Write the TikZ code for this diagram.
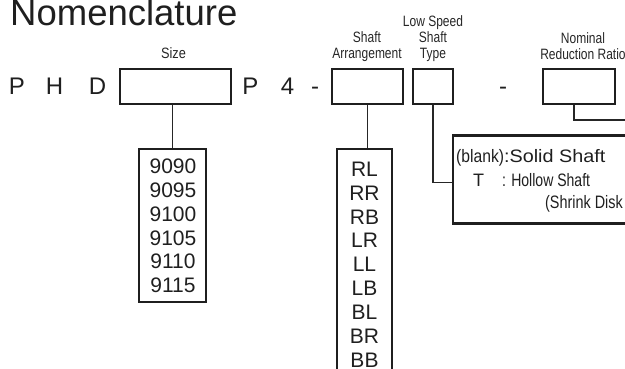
\documentclass[tikz,border=0pt]{standalone}
\usepackage{fontspec}
\setmainfont{Liberation Sans}
\usepackage{graphicx}
\newcommand\hs[2]{\scalebox{#1}[1]{#2}}
\tikzset{
  box/.style={draw=black!88, line width=2.5pt, inner sep=0pt},
  conn/.style={draw=black!85, line width=1.2pt},
  lbl/.style={inner sep=0pt, anchor=base, font=\fontsize{15}{15}\selectfont, text=black!85},
  letter/.style={inner sep=0pt, anchor=base, font=\fontsize{24}{24}\selectfont, text=black!88},
  item/.style={inner sep=0pt, font=\fontsize{21}{21}\selectfont, text=black!88},
  desc/.style={inner sep=0pt, anchor=base west, font=\fontsize{18}{18}\selectfont, text=black!88},
}
\begin{document}
\begin{tikzpicture}[x=1pt,y=-1pt]
\useasboundingbox (0,0) rectangle (625,369);
\clip (0,0) rectangle (625,369);
% title
\node[inner sep=0pt, anchor=base west, text=black!88, font=\fontsize{36.5}{36.5}\selectfont] (title) at (10,26)
  {Nomenclature};
% code letters
\node[letter] (l1) at (17,95) {P};
\node[letter] (l2) at (54.5,95) {H};
\node[letter] (l3) at (97.5,95) {D};
\node[letter] (l4) at (250.5,95) {P};
\node[letter] (l5) at (287.5,95) {4};
\node[letter] (l6) at (315,95) {-};
\node[letter] (l7) at (503,95) {-};
% boxes
\node[box, minimum width=111pt, minimum height=35pt] (sizebox) at (175.5,86.5) {};
\node[box, minimum width=71pt, minimum height=35pt] (arrbox) at (367.5,86.5) {};
\node[box, minimum width=40pt, minimum height=35pt] (typebox) at (433,86.5) {};
\node[box, minimum width=72pt, minimum height=35pt] (ratiobox) at (579,86.5) {};
% labels
\node[lbl] (lsize) at (173.5,59) {\hs{0.85}{Size}};
\node[lbl] (larr1) at (367,43) {\hs{0.8}{Shaft}};
\node[lbl] (larr2) at (367,59) {\hs{0.8}{Arrangement}};
\node[lbl] (ltyp1) at (433,26.5) {\hs{0.8}{Low Speed}};
\node[lbl] (ltyp2) at (433,43) {\hs{0.8}{Shaft}};
\node[lbl] (ltyp3) at (433,59) {\hs{0.8}{Type}};
\node[lbl] (lrat1) at (583,44) {\hs{0.8}{Nominal}};
\node[lbl] (lrat2) at (583,59.5) {\hs{0.8}{Reduction Ratio}};
% lists
\node[box, minimum width=67pt, minimum height=153pt] (sizelist) at (172.5,225.5) {};
\foreach \t [count=\i] in {9090,9095,9100,9105,9110,9115}
  \node[item] (s\i) at (173,166.5+23.8*\i-23.8) {\t};
\node[box, minimum width=55pt, minimum height=236pt] (arrlist) at (364.5,267) {};
\foreach \t [count=\i] in {RL,RR,RB,LR,LL,LB,BL,BR,BB}
  \node[item] (a\i) at (364.5,169+23.9*\i-23.9) {\t};
% description box
\node[box, minimum width=187pt, minimum height=88pt] (typedesc) at (546.5,179.5) {};
\node[desc] (d1) at (456,163) {\hs{0.87}{(blank)}\hs{1.1}{:Solid Shaft}};
\node[desc] (d2a) at (473,186) {T};
\node[desc] (d2b) at (502,186) {\hs{0.78}{: Hollow Shaft}};
\node[desc] (d3) at (545,208) {\hs{0.8}{(Shrink Disk}};
% connectors
\draw[conn] (sizelist.north) -- (sizelist.north |- sizebox.south);
\draw[conn] (arrbox.south) -- (arrbox.south |- arrlist.north);
\draw[conn] (typebox.south) |- ([yshift=-3pt]typedesc.west);
\coordinate (rend) at (630,120);
\draw[conn] ([xshift=-5pt]ratiobox.south) |- (rend);
\end{tikzpicture}
\end{document}
